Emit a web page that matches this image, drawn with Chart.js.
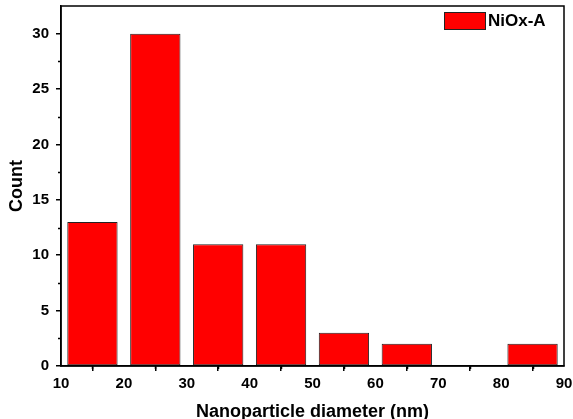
<!DOCTYPE html>
<html>
<head>
<meta charset="utf-8">
<script src="https://cdn.jsdelivr.net/npm/chart.js@4/dist/chart.umd.min.js"></script>
<style>
html,body{margin:0;padding:0;background:#fff;}
#wrap{width:573px;height:419px;}
</style>
</head>
<body>
<div id="wrap"><canvas id="c" width="573" height="419"></canvas></div>
<script>
const binCenters = [15, 25, 35, 45, 55, 65, 75, 85];
const counts = [13, 30, 11, 11, 3, 2, 0, 2];
const seriesLabel = 'NiOx-A';
const xTitle = 'Nanoparticle diameter (nm)';
const yTitle = 'Count';

const FONT = '"Liberation Sans", Arial, sans-serif';

const framePlugin = {
  id: 'frame',
  afterDraw(chart) {
    const {ctx, chartArea: a, scales} = chart;
    ctx.save();
    // minor ticks
    ctx.strokeStyle = '#000';
    ctx.lineWidth = 1.5;
    ctx.beginPath();
    for (let v = 2.5; v < scales.y.max; v += 5) {
      const py = Math.round(scales.y.getPixelForValue(v)) + 0.5;
      ctx.moveTo(a.left, py); ctx.lineTo(a.left - 3, py);
    }
    for (let v = 15; v < scales.x.max; v += 10) {
      const px = Math.round(scales.x.getPixelForValue(v)) + 0.5;
      ctx.moveTo(px, a.bottom); ctx.lineTo(px, a.bottom + 3);
    }
    ctx.stroke();
    // frame
    ctx.lineWidth = 1.5;
    ctx.strokeRect(a.left, a.top, a.right - a.left, a.bottom - a.top);
    // legend
    const ds = chart.data.datasets[0];
    ctx.fillStyle = ds.backgroundColor;
    ctx.fillRect(444.5, 12.5, 41, 17);
    ctx.lineWidth = 1;
    ctx.strokeStyle = '#222';
    ctx.strokeRect(444.5, 12.5, 41, 17);
    ctx.fillStyle = '#000';
    ctx.font = 'bold 17px ' + FONT;
    ctx.textBaseline = 'middle';
    ctx.textAlign = 'left';
    ctx.fillText(ds.label, 488, 21.5);
    ctx.restore();
  }
};

new Chart(document.getElementById('c'), {
  type: 'bar',
  data: {
    datasets: [{
      label: seriesLabel,
      data: binCenters.map((x, i) => ({x: x, y: counts[i]})),
      backgroundColor: '#ff0000',
      borderColor: '#222222',
      borderWidth: 1,
      borderSkipped: false,
      barPercentage: 0.8,
      categoryPercentage: 1.0
    }]
  },
  options: {
    responsive: false,
    animation: false,
    devicePixelRatio: 1,
    layout: {padding: {left: 0, right: 9, top: 6, bottom: 0}},
    plugins: {legend: {display: false}, tooltip: {enabled: false}},
    scales: {
      x: {
        type: 'linear',
        min: 10, max: 90,
        offset: false,
        afterFit(s) { s.height = 53; s.paddingLeft = 0; s.paddingRight = 0; },
        ticks: {stepSize: 10, includeBounds: false, color: '#000', padding: 4,
                font: {family: FONT, size: 15, weight: 'bold'}, maxRotation: 0},
        grid: {drawOnChartArea: false, drawTicks: true, tickLength: 5, color: '#000', lineWidth: 1.5},
        border: {display: true, color: '#000', width: 1.5},
        title: {display: true, text: xTitle, color: '#000', padding: {top: 0, bottom: -4},
                font: {family: FONT, size: 18, weight: 'bold'}}
      },
      y: {
        min: 0, max: 32.5,
        afterFit(s) { s.width = 61; s.paddingTop = 0; s.paddingBottom = 0; },
        ticks: {stepSize: 5, includeBounds: false, color: '#000', padding: 7,
                font: {family: FONT, size: 15, weight: 'bold'}},
        grid: {drawOnChartArea: false, drawTicks: true, tickLength: 5, color: '#000', lineWidth: 1.5},
        border: {display: true, color: '#000', width: 1.5},
        title: {display: true, text: yTitle, color: '#000', padding: {top: 6.7, bottom: 0},
                font: {family: FONT, size: 18, weight: 'bold'}}
      }
    }
  },
  plugins: [framePlugin]
});
</script>
</body>
</html>
